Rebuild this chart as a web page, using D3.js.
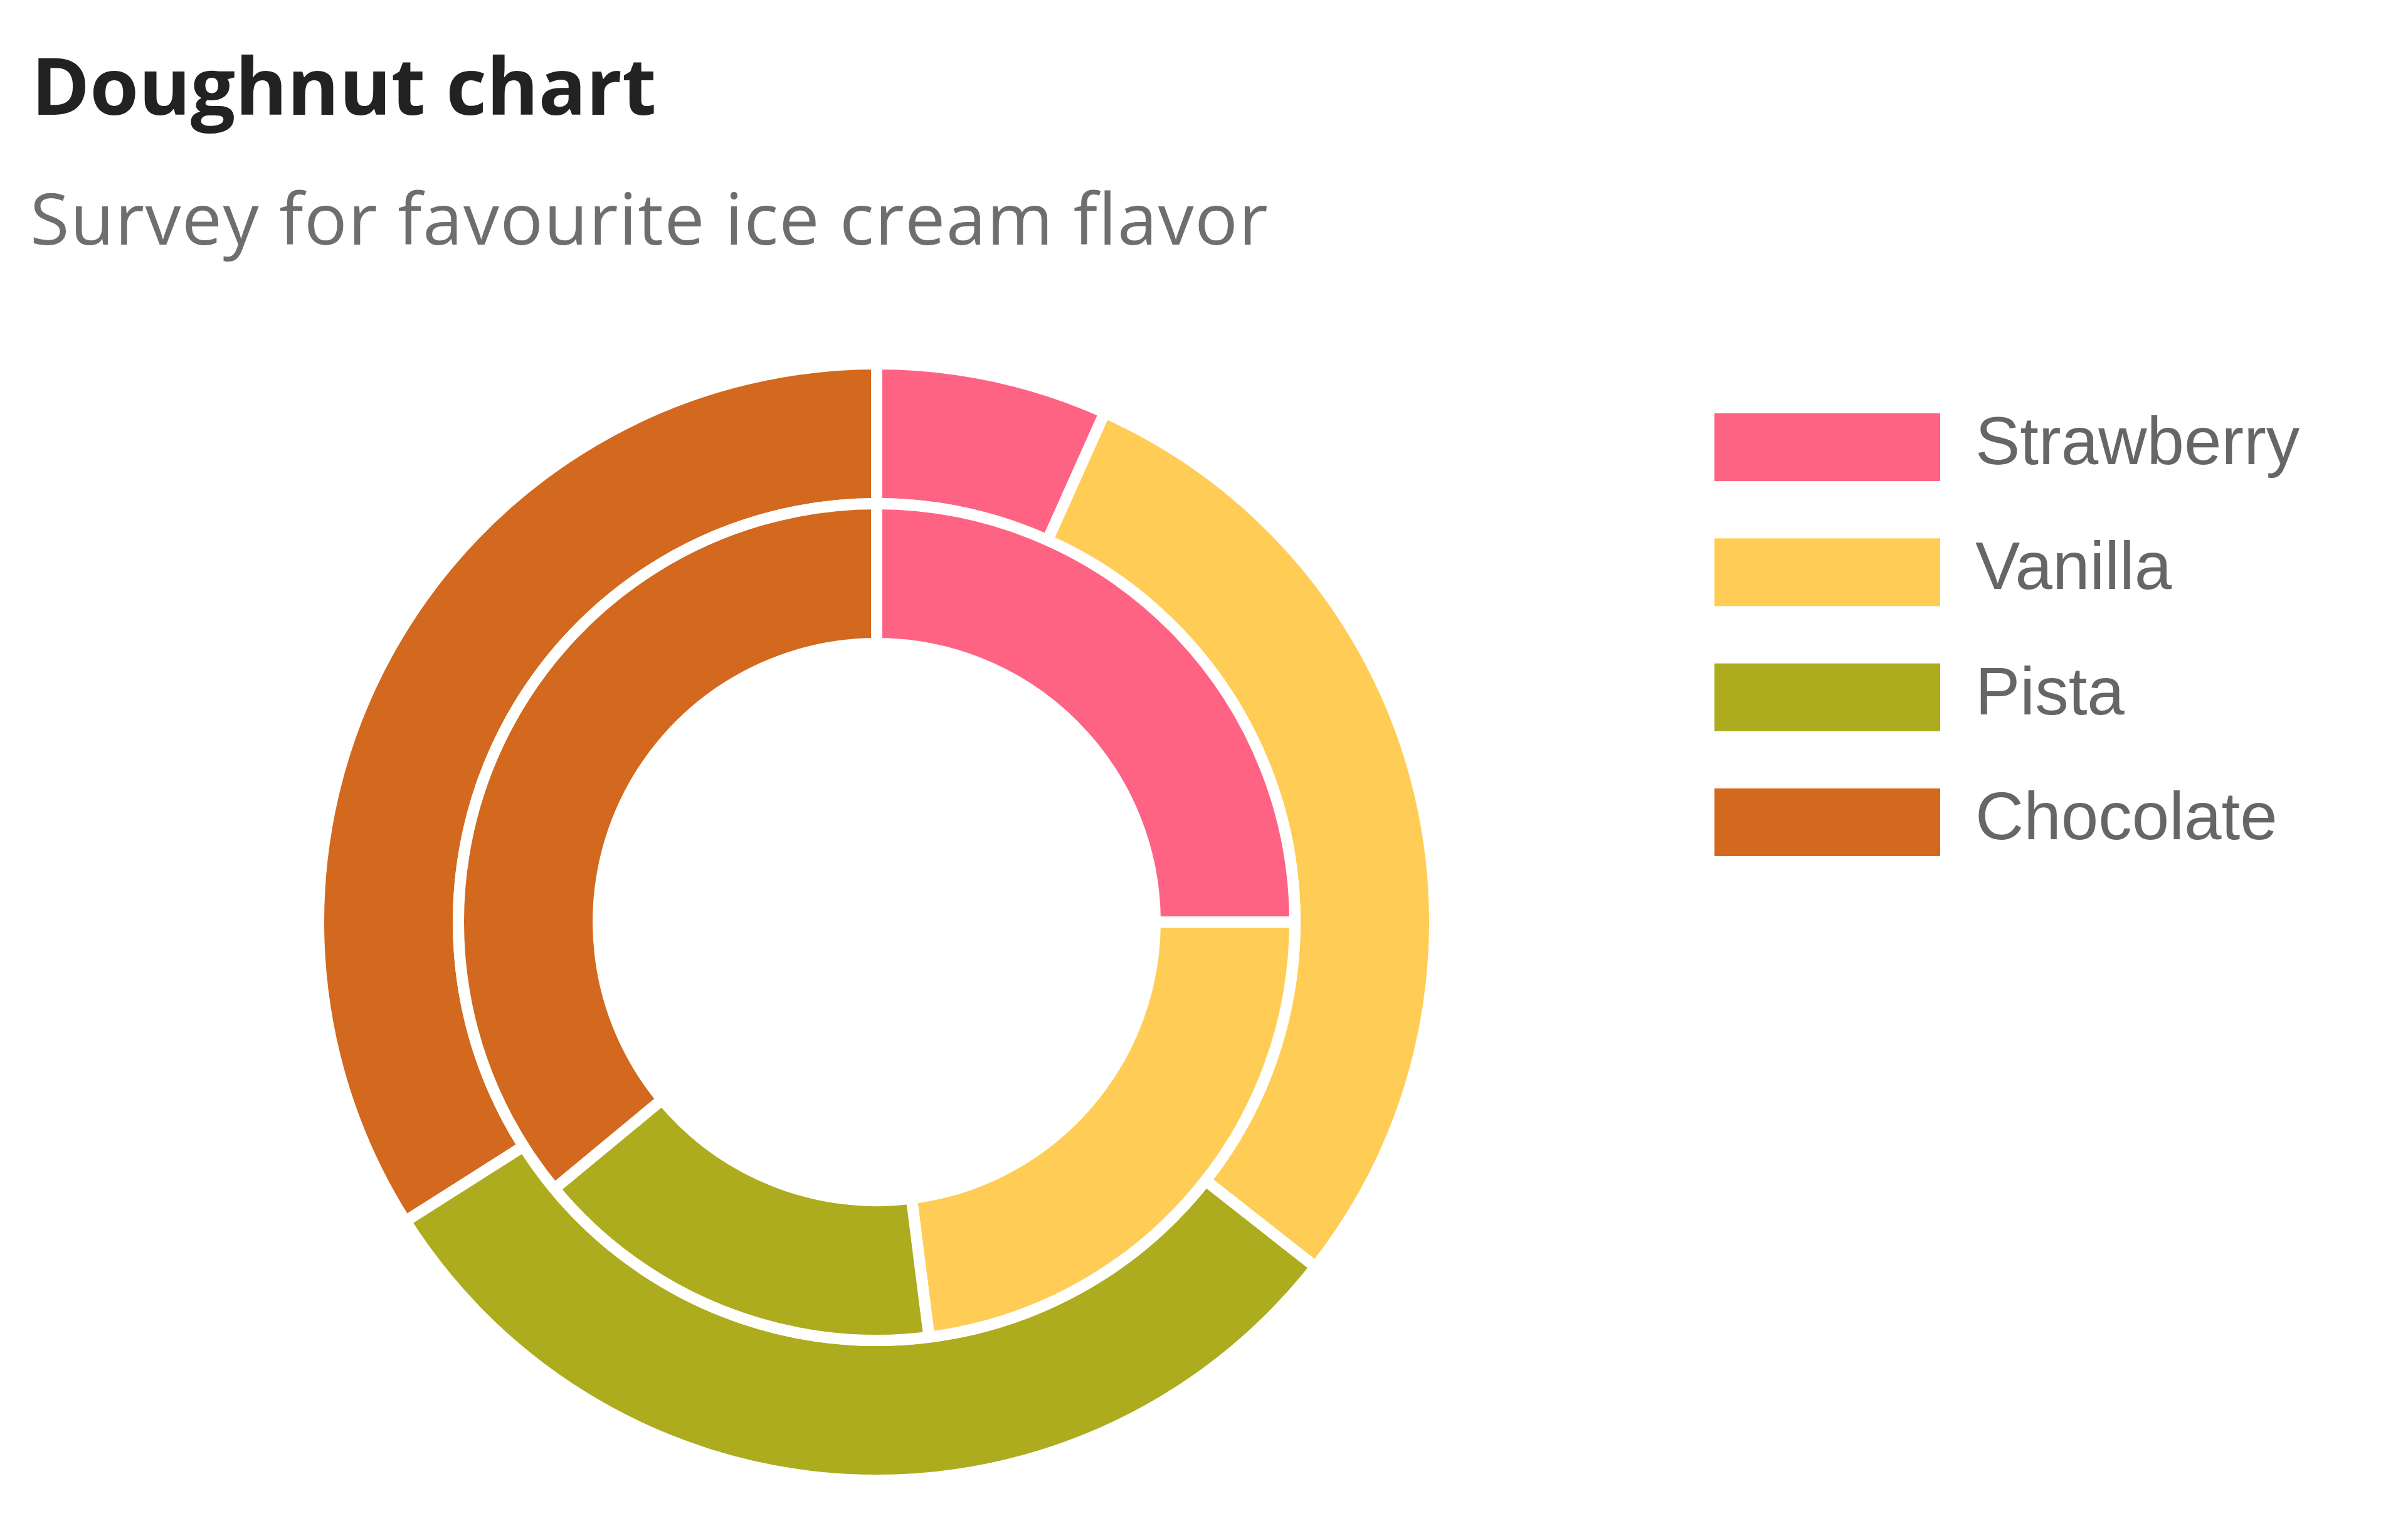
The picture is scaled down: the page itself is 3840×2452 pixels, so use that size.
<!DOCTYPE html>
<html>
<head>
<meta charset="utf-8">
<script src="https://cdn.jsdelivr.net/npm/d3@7"></script>
<style>
  html, body { margin: 0; padding: 0; background: #fff; }
  svg { display: block; }
</style>
</head>
<body>
<svg id="chart" width="3840" height="2452"></svg>
<script>
const flavors = ["Strawberry", "Vanilla", "Pista", "Chocolate"];
const flavorColors = ["#ff6384", "#ffcd56", "#adac1e", "#d2691e"];
// outer ring, then inner ring (clockwise from 12 o'clock)
const outerValues = [6.7, 28.9, 30.4, 34.0];
const innerValues = [25, 23, 16, 36];

const titleText = "Doughnut chart";
const subtitleText = "Survey for favourite ice cream flavor";

const svg = d3.select("#chart");
const W = 3840, H = 2452;

svg.append("rect").attr("width", W).attr("height", H).attr("fill", "#fff");

svg.append("text")
  .attr("x", 50).attr("y", 183)
  .attr("font-family", "'Open Sans', sans-serif")
  .attr("font-weight", 700)
  .attr("font-size", 126)
  .attr("fill", "#222")
  .text(titleText);

svg.append("text")
  .attr("x", 48).attr("y", 390)
  .attr("font-family", "'Open Sans', sans-serif")
  .attr("font-size", 114)
  .attr("letter-spacing", 1.5)
  .attr("fill", "#6e6e6e")
  .text(subtitleText);

const color = d3.scaleOrdinal().domain(flavors).range(flavorColors);

const cx = 1398, cy = 1470;
const border = 18;
const pie = d3.pie().sort(null).value(d => d.value);

const rings = [
  { values: outerValues, inner: 667, outer: 890 },
  { values: innerValues, inner: 444, outer: 667 }
];

const g = svg.append("g").attr("transform", `translate(${cx},${cy})`);

rings.forEach((ring) => {
  const arc = d3.arc().innerRadius(ring.inner).outerRadius(ring.outer);
  const data = flavors.map((f, i) => ({ name: f, value: ring.values[i] }));
  g.append("g")
    .selectAll("path")
    .data(pie(data))
    .join("path")
    .attr("d", arc)
    .attr("fill", d => color(d.data.name))
    .attr("stroke", "#fff")
    .attr("stroke-width", border)
    .attr("stroke-linejoin", "bevel");
});

// legend on the right
const legendY = d3.scalePoint().domain(flavors).range([713, 1311]);
const legend = svg.append("g");
const rows = legend.selectAll("g")
  .data(flavors)
  .join("g")
  .attr("transform", d => `translate(2734,${legendY(d)})`);

rows.append("rect")
  .attr("x", 0).attr("y", -54)
  .attr("width", 360).attr("height", 108)
  .attr("fill", d => color(d));

rows.append("text")
  .attr("x", 416).attr("y", 27)
  .attr("font-family", "'Liberation Sans', Arial, sans-serif")
  .attr("font-size", 107)
  .attr("fill", "#666")
  .text(d => d);
</script>
</body>
</html>
